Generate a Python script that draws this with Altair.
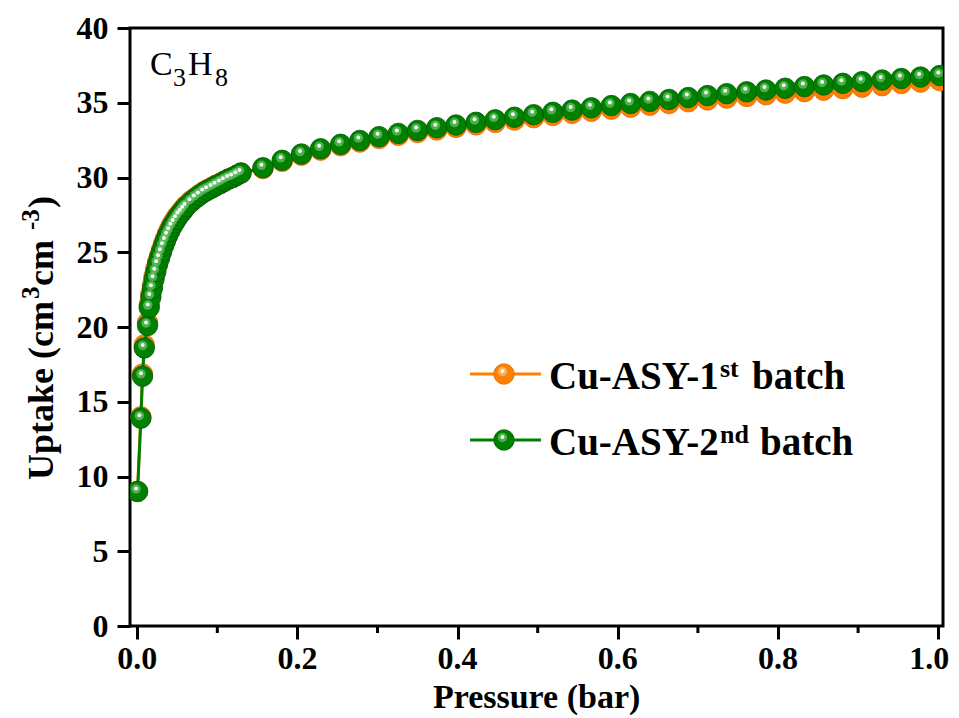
import altair as alt
import pandas as pd

# ---------------- data ----------------
pressure = [
    0.0004, 0.0046, 0.0066, 0.0088, 0.0129, 0.0150, 0.0170, 0.0190, 0.0210, 0.0232,
    0.0255, 0.0278, 0.0302, 0.0327, 0.0352, 0.0378, 0.0405, 0.0432, 0.0460, 0.0490,
    0.0520, 0.0550, 0.0580, 0.0610, 0.0670, 0.0725, 0.0775, 0.0829, 0.0879, 0.0934,
    0.0984, 0.1038, 0.1088, 0.1141, 0.1191, 0.1243, 0.1296,
    0.157, 0.181, 0.205, 0.229, 0.254, 0.278, 0.302, 0.326, 0.350, 0.374,
    0.398, 0.423, 0.447, 0.471, 0.495, 0.519, 0.543, 0.567, 0.592, 0.616,
    0.640, 0.664, 0.688, 0.712, 0.736, 0.761, 0.785, 0.809, 0.833, 0.857,
    0.881, 0.905, 0.930, 0.954, 0.978, 1.002,
]
uptake_2nd = [
    9.0, 13.9, 16.7, 18.6, 20.1, 21.3, 22.0, 22.6, 23.2, 23.7,
    24.2, 24.6, 25.0, 25.4, 25.75, 26.1, 26.4, 26.7, 26.95, 27.2,
    27.45, 27.65, 27.85, 28.05, 28.35, 28.6, 28.8, 29.0, 29.15, 29.3,
    29.45, 29.6, 29.75, 29.9, 30.0, 30.15, 30.3,
    30.65, 31.15, 31.57, 31.92, 32.22, 32.48, 32.73, 32.95, 33.15, 33.33,
    33.51, 33.69, 33.86, 34.03, 34.2, 34.36, 34.51, 34.66, 34.81, 34.95,
    35.09, 35.22, 35.35, 35.48, 35.61, 35.73, 35.85, 35.97, 36.08, 36.19,
    36.3, 36.41, 36.52, 36.62, 36.72, 36.82,
]
uptake_1st = [
    9.0, 14.0, 16.85, 18.8, 20.3, 21.5, 22.2, 22.8, 23.4, 23.9,
    24.35, 24.75, 25.15, 25.55, 25.9, 26.25, 26.55, 26.85, 27.1, 27.35,
    27.55, 27.75, 27.95, 28.15, 28.45, 28.65, 28.85, 29.05, 29.2, 29.35,
    29.5, 29.6, 29.75, 29.9, 30.0, 30.15, 30.3,
    30.6, 31.08, 31.49, 31.83, 32.12, 32.37, 32.61, 32.82, 33.01, 33.18,
    33.35, 33.52, 33.68, 33.84, 34.0, 34.15, 34.29, 34.43, 34.57, 34.7,
    34.83, 34.95, 35.07, 35.19, 35.31, 35.42, 35.53, 35.64, 35.74, 35.84,
    35.94, 36.04, 36.14, 36.28, 36.38, 36.48,
]
series_names = ["Cu-ASY-1st batch", "Cu-ASY-2nd batch"]
x_major_ticks = [0.0, 0.2, 0.4, 0.6, 0.8]
x_last_tick = [1.0]
x_minor_ticks = [0.1, 0.3, 0.5, 0.7, 0.9]
y_ticks = [0, 5, 10, 15, 20, 25, 30, 35, 40]

assert len(pressure) == len(uptake_1st) == len(uptake_2nd)

# ---------------- styling ----------------
FONT = "Liberation Serif"
W, H = 813, 598
GREEN, GREEN_EDGE, GREEN_GLOW = "#008000", "#005800", "#6cc46c"
ORANGE, ORANGE_EDGE, ORANGE_GLOW = "#ff8000", "#d96a00", "#ffc27a"

x_scale = alt.Scale(domain=[-0.009, 1.006], nice=False, zero=False)
y_scale = alt.Scale(domain=[0, 40], nice=False, zero=False)

x_axis = alt.Axis(values=x_major_ticks + x_last_tick, labels=False, title=None, grid=False,
                  domain=False, tickSize=13, tickWidth=3, tickColor="black")
y_axis = alt.Axis(values=y_ticks, format="d", title=None, grid=False, domain=False,
                  tickSize=13, tickWidth=3, tickColor="black", labelFont=FONT,
                  labelFontWeight="bold", labelFontSize=32, labelColor="black",
                  labelPadding=9, labelFlush=False, labelOverlap=False)

XE = alt.X("P:Q", scale=x_scale, axis=x_axis)
YE = alt.Y("U:Q", scale=y_scale, axis=y_axis)

one = pd.DataFrame({"k": [0]})


def series_layers(values, name, color, edge, glow):
    d = pd.DataFrame({"P": pressure, "U": values, "order": list(range(len(pressure)))})
    d["batch"] = name
    base = alt.Chart(d)
    line = base.mark_line(color=color, strokeWidth=3, clip=True).encode(
        x=XE, y=YE, order="order:Q")
    ball = base.mark_circle(size=420, color=color, opacity=1, stroke=edge,
                            strokeWidth=0.8, clip=True).encode(x=XE, y=YE)
    halo = base.mark_circle(size=90, color=glow, opacity=0.7, xOffset=-1.5,
                            yOffset=-2.5, clip=True).encode(x=XE, y=YE)
    spot = base.mark_circle(size=16, color="white", opacity=0.95, xOffset=-1.5,
                            yOffset=-3, clip=True).encode(x=XE, y=YE)
    return [line, ball, halo, spot]


def text(t, x, y, size, weight="bold", angle=0, align="left"):
    return alt.Chart(one).mark_text(text=t, font=FONT, fontSize=size, fontWeight=weight,
                                    angle=angle, align=align, baseline="alphabetic",
                                    color="black").encode(x=alt.value(x), y=alt.value(y))


def legend_item(y, color, edge, glow):
    rule = alt.Chart(one).mark_rule(color=color, strokeWidth=3).encode(
        x=alt.value(340), x2=alt.value(411), y=alt.value(y))
    ball = alt.Chart(one).mark_circle(size=420, color=color, opacity=1, stroke=edge,
                                      strokeWidth=0.8).encode(x=alt.value(374), y=alt.value(y))
    halo = alt.Chart(one).mark_circle(size=90, color=glow, opacity=0.7, xOffset=-1.5,
                                      yOffset=-2.5).encode(x=alt.value(374), y=alt.value(y))
    spot = alt.Chart(one).mark_circle(size=16, color="white", opacity=0.95, xOffset=-1.5,
                                      yOffset=-3).encode(x=alt.value(374), y=alt.value(y))
    return [rule, ball, halo, spot]


minor = alt.Chart(pd.DataFrame({"P": x_minor_ticks})).mark_rule(
    color="black", strokeWidth=3).encode(x=XE, y=alt.value(H), y2=alt.value(H + 7))


def xlabels(vals, dx):
    return alt.Chart(pd.DataFrame({"P": vals})).mark_text(
        font=FONT, fontSize=32, fontWeight="bold", color="black", align="center",
        baseline="alphabetic", dx=dx).encode(
        x=XE, y=alt.value(H + 43), text=alt.Text("P:Q", format=".1f"))


layers = []
layers += series_layers(uptake_1st, series_names[0], ORANGE, ORANGE_EDGE, ORANGE_GLOW)
layers += series_layers(uptake_2nd, series_names[1], GREEN, GREEN_EDGE, GREEN_GLOW)
layers += [minor, xlabels(x_major_ticks, 0), xlabels(x_last_tick, -9)]

# legend
layers += legend_item(346, ORANGE, ORANGE_EDGE, ORANGE_GLOW)
layers += legend_item(412, GREEN, GREEN_EDGE, GREEN_GLOW)
layers += [
    text("Cu-ASY-1", 419, 361, 39),
    text("st", 590, 349, 26),
    text("batch", 622, 361, 39),
    text("Cu-ASY-2", 419, 427, 39),
    text("nd", 590, 415, 26),
    text("batch", 630, 427, 39),
]

# C3H8 label
layers += [
    text("C", 20, 47, 34, weight="normal"),
    text("3", 43, 58, 26, weight="normal"),
    text("H", 58, 47, 34, weight="normal"),
    text("8", 85, 58, 26, weight="normal"),
]

# axis titles
layers += [
    text("Pressure (bar)", 406.6, 680, 34, align="center"),
    text("Uptake (cm", -77, 452, 36, angle=270),
    text("3", -91, 271, 25, angle=270),
    text(" cm", -77, 258, 36, angle=270),
    text("-3", -91, 202, 25, angle=270),
    text(")", -77, 180, 36, angle=270),
]

chart = alt.layer(*layers).properties(
    width=W, height=H,
    autosize=alt.AutoSizeParams(type="none"),
    padding={"left": 122, "top": 20, "right": 8, "bottom": 90},
).configure_view(stroke="black", strokeWidth=3)

chart.save("out.html", embed_options={"renderer": "svg", "actions": False})
